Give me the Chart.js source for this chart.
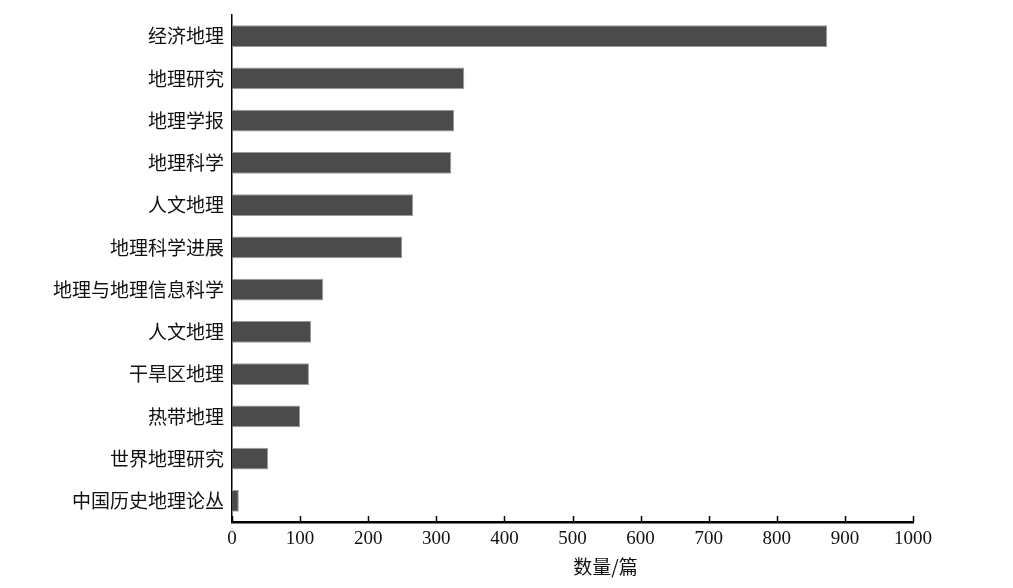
<!DOCTYPE html>
<html><head><meta charset="utf-8">
<script src="https://cdn.jsdelivr.net/npm/chart.js@4/dist/chart.umd.min.js"></script>
<style>html,body{margin:0;padding:0;background:#fff}#wrap{width:1013px;height:588px}</style>
</head><body><div id="wrap"><canvas id="c" width="1013" height="588"></canvas></div>
<script>
const categories = ["经济地理","地理研究","地理学报","地理科学","人文地理","地理科学进展","地理与地理信息科学","人文地理","干旱区地理","热带地理","世界地理研究","中国历史地理论丛"];
const counts = [874,341,326,322,266,250,134,116,113,100,53,10];
const xTicks = [0,100,200,300,400,500,600,700,800,900,1000];
const xTitle = "数量/篇";

const inwardTicks = {
  id:'inwardTicks',
  afterDraw(chart){
    const ctx = chart.ctx, xs = chart.scales.x, area = chart.chartArea;
    ctx.save();
    ctx.strokeStyle = '#000'; ctx.lineWidth = 1.5;
    xTicks.forEach(v=>{
      const px = Math.round(xs.getPixelForValue(v))+0.5;
      ctx.beginPath(); ctx.moveTo(px, area.bottom); ctx.lineTo(px, area.bottom-6); ctx.stroke();
    });
    ctx.fillStyle = '#111';
    ctx.font = '19px "Noto Sans CJK SC"';
    ctx.textAlign = 'center'; ctx.textBaseline = 'middle';
    ctx.fillText(xTitle, (area.left+area.right)/2 + 33, 567);
    ctx.restore();
  }
};

new Chart(document.getElementById('c'), {
  type:'bar',
  data:{ labels:categories, datasets:[{ data:counts, backgroundColor:'#4b4b4b', borderColor:'#9a9a9a', borderWidth:1, barPercentage:0.52, categoryPercentage:1.0 }]},
  options:{
    indexAxis:'y', responsive:false, animation:false,
    layout:{ padding:{ left:0, right:100, top:15, bottom:0 } },
    plugins:{ legend:{display:false}, tooltip:{enabled:false} },
    scales:{
      x:{ min:0, max:1000,
          afterBuildTicks(s){ s.ticks = xTicks.map(v=>({value:v})); },
          afterFit(s){ s.height = 66; },
          grid:{ display:false, drawTicks:false },
          border:{ display:true, color:'#000', width:2.5 },
          ticks:{ padding:6, color:'#111', font:{ family:'"Liberation Serif"', size:19 }, maxRotation:0, autoSkip:false,
                  callback:(v)=>String(v) }
      },
      y:{ offset:true,
          afterFit(s){ s.width = 232; s.paddingTop = 0; s.paddingBottom = 0; },
          grid:{ display:false, drawTicks:false },
          border:{ display:true, color:'#000', width:1.5 },
          ticks:{ padding:8, color:'#111', font:{ family:'"Noto Sans CJK SC"', size:19 }, autoSkip:false }
      }
    }
  },
  plugins:[inwardTicks]
});
</script></body></html>
